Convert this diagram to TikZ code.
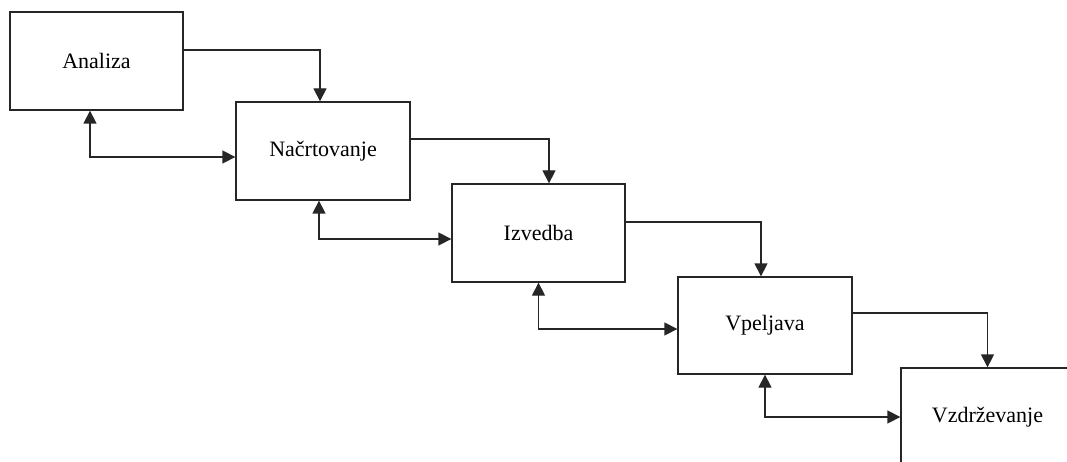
\documentclass[tikz,border=0pt]{standalone}
\usepackage{fontspec}
\setmainfont{Liberation Serif}
\usetikzlibrary{arrows.meta}
\begin{document}
\begin{tikzpicture}[x=1pt,y=-1pt,
  phase/.style={draw=black!85,line width=1.3pt,rectangle,minimum width=173pt,
    minimum height=98pt,inner sep=0pt,font=\fontsize{22}{26}\selectfont},
  tip/.tip={Triangle[length=13pt,width=13pt]},
  flow/.style={draw=black!85,line width=1.3pt,-tip},
  back/.style={draw=black!85,line width=1.3pt,tip-tip}]
  \useasboundingbox (0,0) rectangle (1067,462);
  \clip (0,0) rectangle (1067,462);
  % phases of the life cycle
  \node[phase] (a) at (96.5,61) {Analiza};
  \node[phase,minimum width=174pt] (b) at (323,151) {Načrtovanje};
  \node[phase] (c) at (538.5,233) {Izvedba};
  \node[phase,minimum width=174pt,minimum height=97pt] (d) at (765,325.5) {Vpeljava};
  \node[phase] (e) at (987.5,417) {Vzdrževanje};
  % forward steps
  \draw[flow] ([yshift=11pt]a.east) -| ([xshift=-3pt]b.north);
  \draw[flow] ([yshift=12pt]b.east) -| ([xshift=10.5pt]c.north);
  \draw[flow] ([yshift=11pt]c.east) -| ([xshift=-4pt]d.north);
  \draw[flow] ([yshift=12.5pt]d.east) -| (e.north);
  % feedback between neighbouring phases
  \draw[back] ([xshift=-6.5pt]a.south) |- ([yshift=-6pt]b.west);
  \draw[back] ([xshift=-4pt]b.south) |- ([yshift=-6pt]c.west);
  \draw[back] (c.south) |- ([yshift=-3.5pt]d.west);
  \draw[back] (d.south) |- (e.west);
\end{tikzpicture}
\end{document}
